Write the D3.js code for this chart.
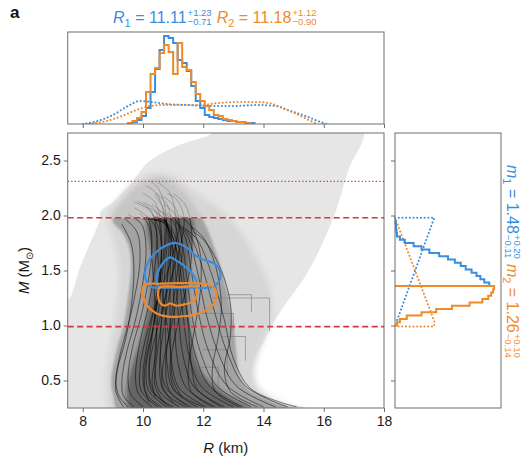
<!DOCTYPE html>
<html><head><meta charset="utf-8">
<script src="https://cdn.jsdelivr.net/npm/d3@7"></script>
<style>body{margin:0;background:#fff;} svg{display:block;font-family:"Liberation Sans",Arial,Helvetica,sans-serif;}</style>
</head><body><svg id="c" width="525" height="462"></svg>
<script>
// ---------------- DATA ----------------
const xTicks = [8, 10, 12, 14, 16, 18];
const yTicks = [0.5, 1.0, 1.5, 2.0, 2.5];

// Top panel: radius histograms (bin edges)
const rEdges = [9.5,9.65,9.8,9.95,10.1,10.25,10.4,10.55,10.7,10.85,11.0,11.15,11.3,11.45,11.6,11.75,11.9,12.05,12.2,12.35,12.5,12.65,12.8,12.95,13.1,13.25,13.4,13.55,13.7];
const r1Hist = [1,2,4,8,16,32,55,74,88,86,81,64,61,53,38,23,16,9,7,6,5,4,3,3,2,2,1,1];
const r2Hist = [1,3,6,12,32,50,56,71,79,72,50,81,57,54,42,30,23,18,14,9,8,5,4,3,2,2,1,0];
// Top panel: priors (dotted)
const r1PriorR = [8.0,8.5,9.0,9.5,9.9,10.3,10.8,11.5,12.3,13.0,13.8,14.4,14.9,15.4,15.8,16.1];
const r1PriorD = [0,3,9,18,23,22,20,19,18,18,19,18,13,8,3,0];
const r2PriorR = [8.2,8.8,9.3,9.7,10.1,10.6,11.2,11.9,12.5,13.1,13.8,14.3,14.7,15.1,15.5,15.8];
const r2PriorD = [0,3,8,13,17,19,19,19,21,22,22,20,15,10,4,0];

// Right panel: mass histograms
const m1Edges = [1.36,1.39,1.42,1.45,1.48,1.51,1.54,1.57,1.60,1.63,1.66,1.69,1.72,1.75,1.78,1.81,1.84,1.87,1.90,1.93,1.96];
const m1Hist  = [96,91,87,83,78,72,67,61,54,45,35,27,19,10,5,2,1.5,1,1,0.5];
const m2Edges = [1.00,1.03,1.06,1.09,1.12,1.15,1.18,1.21,1.24,1.27,1.30,1.33,1.36];
const m2Hist  = [2,5,12,27,42,58,76,89,95,98,100,101];
// Right panel: priors (dotted)
const m1PriorD = [0,40,1];
const m1PriorM = [1.98,1.98,1.02];
const m2PriorD = [0,40,40,0];
const m2PriorM = [1.98,1.04,0.99,0.99];

// Main panel: prior envelope, intermediate halo, posterior band and dense core (R, M)
const priorEnvelope = [[7.4,0.2],[15.4,0.2],[15.4,0.25],[14.6,0.29],[14.0,0.35],[13.7,0.45],[13.6,0.55],[13.7,0.7],[13.9,0.8],[14.5,1.1],[15.5,1.5],[16.35,2.0],[16.8,2.4],[17.3,2.8],
  [12.3,2.8],[12.3,2.75],[11.2,2.64],[10.2,2.49],[9.65,2.31],[9.0,2.12],[8.6,2.04],[8.55,1.95],[8.2,1.72],[7.9,1.52],[7.63,1.28],[7.4,1.15]];
const haloBand = [[9.0,0.2],[8.8,0.45],[8.9,0.8],[9.1,1.1],[9.2,1.5],[9.0,1.8],[8.8,2.0],[9.2,2.15],[9.7,2.3],[10.3,2.38],[11.0,2.36],[11.8,2.2],[12.8,2.0],[13.6,1.7],[14.2,1.35],[14.3,1.1],[13.9,0.8],[13.7,0.6],[13.8,0.45],[14.4,0.32],[15.4,0.2]];
const posteriorBand = [[9.25,0.2],[9.0,0.38],[8.95,0.5],[9.1,0.75],[9.35,1.0],[9.5,1.25],[9.6,1.5],[9.55,1.7],[9.3,1.85],[9.0,1.95],[9.1,2.05],[9.4,2.15],[9.8,2.27],[10.2,2.33],[10.6,2.35],[11.0,2.3],[11.4,2.2],[11.8,2.05],[12.1,1.9],[12.5,1.6],[12.8,1.3],[13.0,1.0],[13.1,0.75],[13.2,0.55],[13.5,0.42],[14.2,0.32],[15.3,0.2]];
const denseCore = [[9.6,0.22],[9.45,0.4],[9.6,0.6],[9.95,0.9],[10.2,1.2],[10.3,1.6],[10.2,1.98],[11.6,1.98],[11.55,1.6],[11.5,1.2],[11.6,0.9],[11.9,0.6],[12.6,0.4],[13.6,0.22]];

// Main panel: posterior EOS mass-radius curves (R km, M Msun)
const eosCurves = [
 [[9.5,0.26],[9.2,0.36],[9.1,0.5],[9.25,0.75],[9.5,1.0],[9.75,1.3],[9.9,1.6],[9.8,1.85],[9.4,1.97]],
 [[9.7,0.26],[9.35,0.36],[9.3,0.5],[9.45,0.75],[9.75,1.05],[10.0,1.4],[10.1,1.7],[9.95,1.92],[9.5,2.01]],
 [[10.0,0.26],[9.6,0.37],[9.5,0.52],[9.65,0.8],[9.95,1.1],[10.2,1.45],[10.3,1.75],[10.15,1.98],[9.7,2.07]],
 [[10.3,0.26],[9.85,0.38],[9.75,0.55],[9.9,0.85],[10.2,1.2],[10.4,1.55],[10.45,1.85],[10.25,2.05],[9.8,2.13]],
 [[10.6,0.26],[10.1,0.38],[10.0,0.55],[10.15,0.85],[10.4,1.2],[10.6,1.6],[10.6,1.9],[10.4,2.12],[10.0,2.2]],
 [[10.9,0.26],[10.35,0.4],[10.2,0.6],[10.3,0.9],[10.5,1.3],[10.7,1.7],[10.7,2.0],[10.45,2.2],[10.1,2.27]],
 [[11.2,0.26],[10.55,0.4],[10.4,0.6],[10.45,0.95],[10.6,1.35],[10.75,1.75],[10.75,2.05],[10.5,2.25],[10.25,2.31]],
 [[11.5,0.26],[10.8,0.42],[10.6,0.62],[10.6,1.0],[10.7,1.4],[10.8,1.8],[10.7,2.05],[10.4,2.18]],
 [[11.8,0.26],[11.0,0.42],[10.8,0.65],[10.75,1.0],[10.8,1.4],[10.85,1.8],[10.7,2.0],[10.3,2.1]],
 [[12.1,0.26],[11.2,0.43],[10.95,0.67],[10.9,1.0],[10.9,1.4],[10.9,1.75],[10.75,1.95],[10.4,2.03]],
 [[12.4,0.26],[11.45,0.43],[11.15,0.68],[11.05,1.0],[11.0,1.4],[10.95,1.75],[10.7,1.95],[10.3,2.0]],
 [[12.7,0.26],[11.7,0.44],[11.35,0.7],[11.2,1.0],[11.1,1.4],[11.0,1.7],[10.75,1.92],[10.2,1.98]],
 [[13.0,0.26],[11.95,0.44],[11.55,0.7],[11.35,1.05],[11.2,1.45],[11.05,1.75],[10.7,1.93],[10.0,1.97]],
 [[13.3,0.26],[12.2,0.45],[11.75,0.72],[11.5,1.05],[11.35,1.45],[11.15,1.75],[10.8,1.93],[10.4,1.97]],
 [[13.6,0.26],[12.45,0.45],[11.95,0.72],[11.65,1.05],[11.45,1.45],[11.3,1.75],[11.1,1.95],[10.8,2.02]],
 [[14.0,0.26],[12.8,0.45],[12.2,0.75],[11.85,1.1],[11.6,1.5],[11.4,1.8],[11.1,1.95]],
 [[14.4,0.26],[13.1,0.45],[12.5,0.75],[12.1,1.1],[11.8,1.5],[11.5,1.8],[11.2,1.92]],
 [[14.8,0.26],[13.4,0.45],[12.8,0.75],[12.4,1.1],[12.0,1.5],[11.6,1.8],[11.3,1.9]],
 [[15.1,0.26],[13.6,0.42],[13.0,0.7],[12.7,1.05],[12.3,1.45],[11.8,1.78],[11.4,1.88]],
 [[13.2,0.26],[12.4,0.4],[12.3,0.6],[12.5,0.9],[12.6,1.2],[12.4,1.55],[12.0,1.8],[11.6,1.9]],
 [[12.3,0.26],[11.6,0.4],[11.5,0.6],[11.7,0.95],[11.9,1.3],[11.9,1.65],[11.6,1.9],[11.2,2.0]],
 [[10.5,0.26],[9.95,0.4],[9.9,0.6],[10.2,1.0],[10.7,1.4],[11.1,1.75],[11.2,1.95],[11.0,2.1],[10.6,2.18]],
 [[11.0,0.26],[10.3,0.4],[10.2,0.6],[10.5,1.0],[10.9,1.4],[11.3,1.8],[11.35,2.0],[11.1,2.15],[10.8,2.2]],
 [[12.0,0.26],[11.1,0.4],[10.9,0.6],[11.1,0.95],[11.4,1.3],[11.6,1.6],[11.6,1.9],[11.4,2.1],[11.0,2.2]],
 [[11.4,0.26],[10.7,0.4],[10.55,0.6],[10.7,1.0],[11.0,1.5],[11.1,1.9],[10.9,2.2],[10.5,2.3]],
 [[9.35,0.26],[9.1,0.4],[9.15,0.6],[9.4,0.85],[9.6,1.15],[9.7,1.5],[9.6,1.75],[9.3,1.92]],
 [[10.8,0.26],[10.2,0.4],[10.1,0.6],[10.35,1.0],[10.6,1.5],[10.55,1.85],[10.2,2.05],[9.7,2.12]],
 [[11.6,0.26],[10.9,0.4],[10.75,0.62],[10.9,1.0],[11.1,1.4],[11.2,1.7],[11.0,1.95],[10.5,2.05]],
 [[12.6,0.26],[11.8,0.42],[11.6,0.65],[11.5,1.0],[11.3,1.4],[11.0,1.8],[10.6,2.0],[10.1,2.08]],
 [[13.8,0.26],[12.9,0.4],[12.7,0.6],[12.9,0.9],[12.9,1.2],[12.6,1.5],[12.1,1.75],[11.7,1.85]],
 [[10.2,0.3],[10.05,0.45],[10.1,0.7],[10.35,1.0],[10.55,1.4],[10.6,1.8],[10.4,2.05],[10.0,2.12]],
 [[10.7,0.3],[10.4,0.45],[10.45,0.7],[10.6,1.0],[10.8,1.4],[10.95,1.8],[10.8,2.1],[10.4,2.2]],
 [[11.0,0.3],[10.65,0.45],[10.7,0.7],[10.95,1.0],[11.2,1.4],[11.3,1.75],[11.1,2.0],[10.7,2.1]],
 [[10.4,0.35],[10.3,0.5],[10.45,0.8],[10.4,1.2],[10.3,1.6],[10.2,1.9],[9.9,2.02]],
 [[11.3,0.35],[11.0,0.5],[10.9,0.8],[10.7,1.2],[10.5,1.6],[10.4,1.9],[10.1,2.0]]
];
// Phase-transition segments
const stepLines = [
 [[14.2,0.95],[14.2,1.25],[12.3,1.25]],
 [[13.0,0.95],[13.0,1.11],[11.9,1.11]],
 [[12.8,0.55],[12.8,0.78],[12.0,0.78]],
 [[12.5,0.42],[12.5,0.62],[11.8,0.62]],
 [[13.4,0.68],[13.4,0.9],[12.6,0.9]],
 [[13.6,1.12],[13.6,1.28],[12.8,1.28]]
];
// Reference masses
const dottedMass = [2.31];
const dashedMass = [1.98, 0.99];

// Credible contours (R, M)
const c1Outer = [[11.1,1.75],[11.44,1.71],[11.66,1.655],[11.9,1.61],[12.38,1.56],[12.55,1.5],[12.54,1.41],[12.3,1.35],[11.5,1.345],[10.7,1.345],[10.28,1.35],[10.09,1.42],[10.08,1.5],[10.18,1.58],[10.45,1.67],[10.78,1.73]];
const c1Inner = [[10.89,1.62],[11.11,1.59],[11.33,1.55],[11.55,1.5],[11.71,1.44],[11.77,1.38],[11.5,1.355],[10.9,1.355],[10.5,1.36],[10.45,1.44],[10.55,1.52],[10.7,1.58]];
const c2Outer = [[10.05,1.37],[10.6,1.38],[11.2,1.385],[11.7,1.385],[12.2,1.37],[12.4,1.33],[12.45,1.26],[12.32,1.185],[12.1,1.14],[11.66,1.095],[11.2,1.08],[10.85,1.08],[10.45,1.11],[10.17,1.17],[10.0,1.26],[9.98,1.32]];
const c2Inner = [[10.55,1.345],[11.2,1.35],[11.77,1.35],[11.8,1.3],[11.77,1.26],[11.6,1.21],[11.33,1.19],[11.1,1.18],[10.9,1.2],[10.72,1.18],[10.56,1.21],[10.5,1.27]];

// Labels
const rStats = [{sym:"R", idx:"1", val:"11.11", up:"+1.23", dn:"\u22120.71"},{sym:"R", idx:"2", val:"11.18", up:"+1.12", dn:"\u22120.90"}];
const mStats = [{sym:"m", idx:"1", val:"1.48", up:"+0.20", dn:"\u22120.11"},{sym:"m", idx:"2", val:"1.26", up:"+0.10", dn:"\u22120.14"}];

// ---------------- DRAWING ----------------
const BLUE = "#3b8de0", ORANGE = "#ef8a2b", RED = "#d13a35", FRAME = "#6f6f6f";
const svg = d3.select('#c');
const P = {l:67.7, r:384, t:133, b:408};
const TP = {t:32, b:124};
const RP = {l:395, r:501};
const x = d3.scaleLinear().domain([7.5,18]).range([P.l,P.r]);
const y = d3.scaleLinear().domain([0.25,2.75]).range([P.b,P.t]);
const yTop = d3.scaleLinear().domain([0,92]).range([TP.b,TP.t]);
const xRight = d3.scaleLinear().domain([0,108]).range([RP.l,RP.r]);

const defs = svg.append('defs');
defs.append('clipPath').attr('id','mainClip').append('rect').attr('x',P.l).attr('y',P.t).attr('width',P.r-P.l).attr('height',P.b-P.t);
defs.append('clipPath').attr('id','below').append('rect').attr('x',P.l).attr('y',y(1.98)).attr('width',P.r-P.l).attr('height',P.b-y(1.98));
defs.append('clipPath').attr('id','above').append('rect').attr('x',P.l).attr('y',P.t).attr('width',P.r-P.l).attr('height',y(1.98)-P.t);
defs.append('clipPath').attr('id','topClip').append('rect').attr('x',P.l).attr('y',TP.t).attr('width',P.r-P.l).attr('height',TP.b-TP.t);
[['blur1',1.2],['blur2',2.2],['blur3',3]].forEach(([id,s])=>{
  defs.append('filter').attr('id',id).attr('x','-20%').attr('y','-20%').attr('width','140%').attr('height','140%')
    .append('feGaussianBlur').attr('stdDeviation',s);
});

const closedRM = d3.line().x(d=>x(d[0])).y(d=>y(d[1])).curve(d3.curveCatmullRomClosed.alpha(0.5));
const g = svg.append('g').attr('clip-path','url(#mainClip)');

// prior envelope
g.append('path').attr('d', closedRM(priorEnvelope)).attr('fill','#e6e6e6');
// halo
g.append('path').attr('d', closedRM(haloBand)).attr('fill','#d6d6d6').attr('filter','url(#blur3)');
// posterior band
const bandD = closedRM(posteriorBand);
g.append('g').attr('clip-path','url(#below)').append('path').attr('d',bandD).attr('fill','#a3a3a3').attr('filter','url(#blur1)');
g.append('g').attr('clip-path','url(#above)').append('path').attr('d',bandD).attr('fill','#c6c6c6').attr('filter','url(#blur2)');
g.append('g').attr('clip-path','url(#below)').append('path').attr('d',closedRM(denseCore)).attr('fill','#3a3a3a').attr('fill-opacity',0.6).attr('filter','url(#blur2)');

// step segments
const lineLin = d3.line().x(d=>x(d[0])).y(d=>y(d[1]));
g.append('g').selectAll('path').data(stepLines).join('path').attr('d',lineLin).attr('fill','none').attr('stroke','#7d7d7d').attr('stroke-width',0.9).attr('stroke-opacity',0.7);

// curves
const lineCurve = d3.line().x(d=>x(d[0])).y(d=>y(d[1])).curve(d3.curveCatmullRom.alpha(0.5));
g.append('g').attr('clip-path','url(#below)').selectAll('path').data(eosCurves).join('path')
  .attr('d',lineCurve).attr('fill','none').attr('stroke','#000').attr('stroke-width',1).attr('stroke-opacity',0.5);
g.append('g').attr('clip-path','url(#above)').selectAll('path').data(eosCurves).join('path')
  .attr('d',lineCurve).attr('fill','none').attr('stroke','#6a6a6a').attr('stroke-width',1).attr('stroke-opacity',0.45);

// reference lines
g.selectAll('.dot').data(dottedMass).join('line').attr('x1',P.l).attr('x2',P.r).attr('y1',d=>y(d)).attr('y2',d=>y(d))
  .attr('stroke',RED).attr('stroke-width',1.4).attr('stroke-dasharray','1.3,2.2');
g.selectAll('.dash').data(dashedMass).join('line').attr('x1',P.l).attr('x2',P.r).attr('y1',d=>y(d)).attr('y2',d=>y(d))
  .attr('stroke',RED).attr('stroke-width',1.6).attr('stroke-dasharray','6,3.5');

// contours
[[c1Outer,BLUE],[c1Inner,BLUE],[c2Outer,ORANGE],[c2Inner,ORANGE]].forEach(([d,c])=>{
  g.append('path').attr('d',closedRM(d)).attr('fill','none').attr('stroke',c).attr('stroke-width',2.2).attr('stroke-linejoin','round');
});

// main frame + axes
svg.append('rect').attr('x',P.l).attr('y',P.t).attr('width',P.r-P.l).attr('height',P.b-P.t).attr('fill','none').attr('stroke',FRAME).attr('stroke-width',1);
const axL = svg.append('g').attr('transform',`translate(${P.l},0)`).call(d3.axisLeft(y).tickValues(yTicks).tickSize(4).tickPadding(3).tickFormat(d3.format('.1f')));
const axB = svg.append('g').attr('transform',`translate(0,${P.b})`).call(d3.axisBottom(x).tickValues(xTicks).tickSize(4).tickPadding(4).tickFormat(d3.format('d')));
[axL,axB].forEach(a=>{a.select('.domain').remove(); a.selectAll('line').attr('stroke',FRAME); a.selectAll('text').attr('fill','#1a1a1a').style('font-size','14px').style('font-family','"Liberation Sans",Arial,sans-serif');});

// axis titles
const xl = svg.append('text').attr('x',(P.l+P.r)/2).attr('y',453).attr('text-anchor','middle').style('font-size','15px').attr('fill','#1a1a1a');
xl.append('tspan').text('R').style('font-style','italic'); xl.append('tspan').text(' (km)');
const yl = svg.append('text').attr('transform',`translate(29,${(P.t+P.b)/2}) rotate(-90)`).attr('text-anchor','middle').style('font-size','15px').attr('fill','#1a1a1a');
yl.append('tspan').text('M').style('font-style','italic'); yl.append('tspan').text(' (M');
yl.append('tspan').text('\u2299').attr('dy',4).style('font-size','10px'); yl.append('tspan').text(')').attr('dy',-4);

// ---------- top panel ----------
const tg = svg.append('g').attr('clip-path','url(#topClip)');
function vStep(edges, vals){ const pts=[[edges[0],0]]; vals.forEach((v,i)=>{pts.push([edges[i],v]); pts.push([edges[i+1],v]);}); pts.push([edges[edges.length-1],0]); return pts; }
const lineTop = d3.line().x(d=>x(d[0])).y(d=>yTop(d[1]));
const lineTopSmooth = d3.line().x(d=>x(d[0])).y(d=>yTop(d[1])).curve(d3.curveMonotoneX);
tg.append('path').attr('d',lineTopSmooth(r1PriorR.map((r,i)=>[r,r1PriorD[i]]))).attr('fill','none').attr('stroke',BLUE).attr('stroke-width',2).attr('stroke-dasharray','0.1,3.6').attr('stroke-linecap','round');
tg.append('path').attr('d',lineTopSmooth(r2PriorR.map((r,i)=>[r,r2PriorD[i]]))).attr('fill','none').attr('stroke',ORANGE).attr('stroke-width',2).attr('stroke-dasharray','0.1,3.6').attr('stroke-linecap','round');
tg.append('path').attr('d',lineTop(vStep(rEdges,r1Hist))).attr('fill','none').attr('stroke',BLUE).attr('stroke-width',2);
tg.append('path').attr('d',lineTop(vStep(rEdges,r2Hist))).attr('fill','none').attr('stroke',ORANGE).attr('stroke-width',2);
svg.append('rect').attr('x',P.l).attr('y',TP.t).attr('width',P.r-P.l).attr('height',TP.b-TP.t).attr('fill','none').attr('stroke',FRAME);
const axT = svg.append('g').attr('transform',`translate(0,${TP.b})`).call(d3.axisBottom(x).tickValues(xTicks).tickSize(4).tickFormat(''));
axT.select('.domain').remove(); axT.selectAll('line').attr('stroke',FRAME);

// ---------- right panel ----------
function hStep(edges, vals){ const pts=[[0,edges[0]]]; vals.forEach((v,i)=>{pts.push([v,edges[i]]); pts.push([v,edges[i+1]]);}); pts.push([0,edges[edges.length-1]]); return pts; }
const lineRight = d3.line().x(d=>xRight(d[0])).y(d=>y(d[1]));
const rg = svg.append('g');
rg.append('path').attr('d',lineRight(m1PriorD.map((d,i)=>[d,m1PriorM[i]]))).attr('fill','none').attr('stroke',BLUE).attr('stroke-width',2).attr('stroke-dasharray','0.1,3.6').attr('stroke-linecap','round');
rg.append('path').attr('d',lineRight(m2PriorD.map((d,i)=>[d,m2PriorM[i]]))).attr('fill','none').attr('stroke',ORANGE).attr('stroke-width',2).attr('stroke-dasharray','0.1,3.6').attr('stroke-linecap','round');
rg.append('path').attr('d',lineRight(hStep(m1Edges,m1Hist))).attr('fill','none').attr('stroke',BLUE).attr('stroke-width',2);
rg.append('path').attr('d',lineRight(hStep(m2Edges,m2Hist))).attr('fill','none').attr('stroke',ORANGE).attr('stroke-width',2);
svg.append('rect').attr('x',RP.l).attr('y',P.t).attr('width',RP.r-RP.l).attr('height',P.b-P.t).attr('fill','none').attr('stroke',FRAME);
const axR = svg.append('g').attr('transform',`translate(${RP.l},0)`).call(d3.axisLeft(y).tickValues(yTicks).tickSize(4).tickFormat(''));
axR.select('.domain').remove(); axR.selectAll('line').attr('stroke',FRAME);

// ---------- stat labels ----------
function stat(parent, x0, y0, s, color){
  const t = parent.append('text').attr('x',x0).attr('y',y0).attr('fill',color).style('font-size','16px');
  t.append('tspan').text(s.sym).style('font-style','italic');
  t.append('tspan').text(s.idx).attr('dy',4).style('font-size','11px');
  t.append('tspan').text(' = '+s.val).attr('dy',-4);
  const w = t.node().getComputedTextLength();
  const a = parent.append('text').attr('x',x0+w+1).attr('y',y0-7).attr('fill',color).style('font-size','9.5px').text(s.up);
  const b = parent.append('text').attr('x',x0+w+1).attr('y',y0+2.5).attr('fill',color).style('font-size','9.5px').text(s.dn);
  return x0+w+1+Math.max(a.node().getComputedTextLength(), b.node().getComputedTextLength());
}
let xe = stat(svg, 113, 22.5, rStats[0], BLUE);
stat(svg, xe+5, 22.5, rStats[1], ORANGE);
const rot = svg.append('g').attr('transform','translate(507,165) rotate(90)');
let me = stat(rot, 0, 0, mStats[0], BLUE);
stat(rot, me+5, 0, mStats[1], ORANGE);

svg.append('text').attr('x',10).attr('y',18).text('a').style('font-size','17px').style('font-weight','bold').attr('fill','#111');
</script></body></html>
